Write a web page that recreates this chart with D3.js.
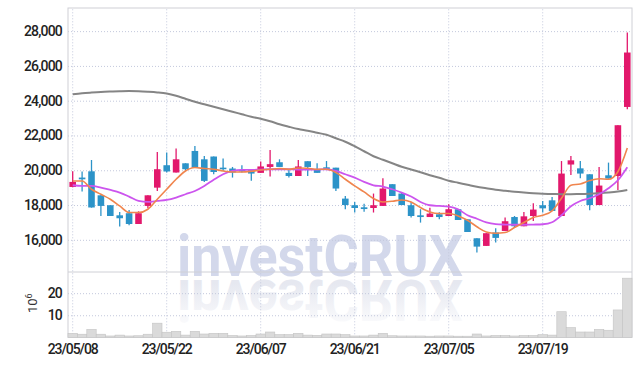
<!DOCTYPE html>
<html lang="en">
<head>
<meta charset="UTF-8" />
<script src="https://d3js.org/d3.v7.min.js"></script>
<style>
  html, body { margin: 0; padding: 0; background: #fff; }
  svg { display: block; }
  .tick text { font-family: Roboto, "Liberation Sans", sans-serif; font-weight: 500; fill: #222; }
</style>
</head>
<body>
<svg id="chart" width="642" height="366"></svg>
<script>
// trading days
const dates = [
  '23/05/08','23/05/09','23/05/10','23/05/11','23/05/12','23/05/15','23/05/16','23/05/17','23/05/18','23/05/19',
  '23/05/22','23/05/23','23/05/24','23/05/25','23/05/26','23/05/30','23/05/31','23/06/01','23/06/02','23/06/05',
  '23/06/07','23/06/08','23/06/09','23/06/12','23/06/13','23/06/14','23/06/15','23/06/16','23/06/19','23/06/20',
  '23/06/21','23/06/22','23/06/23','23/06/26','23/06/27','23/06/28','23/06/29','23/06/30','23/07/03','23/07/04',
  '23/07/05','23/07/06','23/07/07','23/07/10','23/07/11','23/07/12','23/07/13','23/07/14','23/07/17','23/07/18',
  '23/07/19','23/07/20','23/07/21','23/07/24','23/07/25','23/07/26','23/07/27','23/07/28','23/07/31','23/08/01'
];
const dateTicks = ['23/05/08','23/05/22','23/06/07','23/06/21','23/07/05','23/07/19'];

const open = [19040,19580,19940,18560,17990,17410,17530,16910,17950,19000,
  20290,19870,20400,21110,20630,20790,20150,20100,20020,20020,
  19850,20190,20460,19850,19670,20520,20060,20170,20150,18370,
  17990,17870,17830,17950,19200,18660,17990,17410,17310,17470,
  17370,17760,17180,16090,15650,16420,16510,17310,16780,17370,
  17990,18270,17370,20330,20110,19770,18000,19710,19670,23640];
const high = [19940,19930,20590,18560,17990,17600,17720,17640,18560,21050,
  21020,21250,20400,21400,20820,20790,20670,20190,20290,20020,
  20500,21170,20630,20020,20590,20520,20400,20530,20150,18520,
  18180,18080,18660,19540,19200,18750,18180,17760,17850,17580,
  18040,17760,17180,16090,16380,16660,17280,17370,17600,18100,
  18230,18460,20530,20820,20530,19770,20190,20440,22590,27920];
const low = [19020,18780,17850,17370,17370,16760,16840,16910,17820,18810,
  19870,19870,19960,20150,19330,19770,19960,19580,19870,19390,
  19850,19640,20190,19580,19670,19670,19850,20060,18810,17760,
  17570,17620,17570,17950,18520,18000,17280,16990,17310,17180,
  17370,17140,16450,15270,15650,15840,16510,16700,16780,17080,
  17570,17660,17370,19730,19540,17700,18000,19520,18870,23510];
const close = [19330,19480,17860,17950,17370,17240,16910,17530,18560,20060,
  19930,20630,20060,20150,19390,19900,20060,19870,19940,19810,
  20220,20350,20190,19670,20220,20190,19850,20060,18950,18000,
  17830,17770,17990,18950,18520,18000,17370,17310,17510,17310,
  17760,17140,16450,15610,16380,16110,17070,16780,17350,17740,
  17810,17660,19810,20570,19810,18000,19120,19520,22590,26770];

// moving averages
const ma5 = [19385,19385,18908,18620,18333,17948,17568,17568,17758,18333,
  18908,19483,19960,20155,20098,20058,19960,19902,19902,19943,
  20017,20058,20098,20058,20133,20115,20058,20058,19868,19483,
  19098,18753,18373,18178,18218,18293,18178,17856,17603,17511,
  17511,17373,17125,16751,16453,16378,16418,16705,16993,17280,
  17413,17660,18390,19138,19212,19408,19511,19483,19914,21277];
const ma20 = [19138,19098,19098,19005,18868,18718,18488,18235,18178,18235,
  18293,18430,18620,18810,19098,19454,19770,19960,20017,20017,
  20040,20058,20058,20058,20040,20040,20040,20058,19960,19770,
  19580,19328,19138,19063,18908,18718,18488,18178,17988,17948,
  17913,17758,17413,17211,17010,16907,16878,16866,16866,16878,
  16895,17010,17413,17930,18235,18390,18620,18965,19425,20173];
const ma120 = [24370,24428,24468,24502,24525,24543,24554,24543,24514,24474,
  24410,24284,24111,23939,23795,23651,23508,23364,23220,23076,
  22961,22818,22645,22501,22369,22271,22156,22041,21840,21639,
  21380,21093,20805,20604,20403,20201,20046,19885,19713,19569,
  19396,19281,19166,19051,18965,18879,18821,18764,18718,18678,
  18649,18637,18620,18620,18637,18649,18678,18718,18775,18867];

// volume, millions of shares
const volume = [1.8,1.4,3.6,1.4,0.6,1.0,0.6,0.7,1.4,6.4,
  2.3,2.7,1.0,2.7,1.5,1.8,1.8,0.8,0.6,0.8,
  1.5,2.4,1.2,1.2,1.8,1.0,0.9,1.5,1.5,1.2,
  0.6,0.6,1.0,1.8,0.7,0.6,0.6,0.6,0.5,0.6,
  0.6,0.5,0.5,1.5,0.6,0.8,0.8,0.6,0.8,0.8,
  1.2,1.0,11.6,4.4,2.4,2.4,3.6,3.2,12.4,26.8];

const priceTicks = [16000,18000,20000,22000,24000,26000,28000];
const volumeTicks = [10,20];

const svg = d3.select('#chart');
const plotLeft = 68, plotRight = 632, plotTop = 8, priceBottom = 272, volBottom = 337.3;

const x = d3.scaleBand().domain(dates).range([plotLeft, plotRight]);
const y = d3.scaleLinear().domain([14150, 29330]).range([priceBottom, plotTop]);
const yv = d3.scaleLinear().domain([0, 29.6]).range([volBottom, priceBottom]);
const cx = d => x(d) + x.bandwidth() / 2;

const upColor = '#e2186c', downColor = '#2c93c8';
const gridColor = '#c3c8dc';

// watermark (text + mirrored copy)
const defs = svg.append('defs');
const grad = defs.append('linearGradient').attr('id', 'fade').attr('x1', 0).attr('y1', 0).attr('x2', 0).attr('y2', 1);
grad.append('stop').attr('offset', 0).attr('stop-color', '#fff');
grad.append('stop').attr('offset', 0.75).attr('stop-color', '#e6e8f0');
defs.append('text').attr('id', 'wmText')
  .attr('x', 177).attr('y', 276)
  .attr('textLength', 286).attr('lengthAdjust', 'spacingAndGlyphs')
  .attr('font-family', 'Roboto, sans-serif').attr('font-weight', 700).attr('font-size', 58)
  .text('investCRUX');
svg.append('use').attr('href', '#wmText').attr('fill', '#d3d8eb');
svg.append('use').attr('href', '#wmText').attr('fill', 'url(#fade)')
  .attr('transform', 'translate(0,556) scale(1,-1)');

// cover for reflection below the volume baseline
svg.append('rect').attr('x', plotLeft).attr('y', volBottom).attr('width', plotRight - plotLeft).attr('height', 30).attr('fill', '#fff');

// price axis + grid
const yAxisG = svg.append('g')
  .attr('transform', `translate(${plotLeft},0)`)
  .call(d3.axisLeft(y).tickValues(priceTicks).tickFormat(d3.format(',')).tickSize(-(plotRight - plotLeft)).tickPadding(6));
yAxisG.select('.domain').remove();
yAxisG.selectAll('.tick line').attr('stroke', gridColor).attr('stroke-dasharray', '1,2');
yAxisG.selectAll('.tick text').attr('font-size', 14).attr('letter-spacing', '-0.8px');

// volume axis + grid
const yvAxisG = svg.append('g')
  .attr('transform', `translate(${plotLeft},0)`)
  .call(d3.axisLeft(yv).tickValues(volumeTicks).tickSize(-(plotRight - plotLeft)).tickPadding(6));
yvAxisG.select('.domain').remove();
yvAxisG.selectAll('.tick line').attr('stroke', gridColor).attr('stroke-dasharray', '1,2');
yvAxisG.selectAll('.tick text').attr('font-size', 14).attr('letter-spacing', '-0.8px');

const unit = svg.append('text')
  .attr('transform', 'translate(37,313) rotate(-90)')
  .attr('font-family', 'Roboto, sans-serif').attr('font-size', 13).attr('fill', '#333');
unit.append('tspan').text('10');
unit.append('tspan').attr('dy', -5).attr('font-size', 9).text('6');

// x axis + vertical grid
const xAxisG = svg.append('g')
  .attr('transform', `translate(0,${volBottom})`)
  .call(d3.axisBottom(x).tickValues(dateTicks).tickSize(-(volBottom - plotTop)).tickPadding(7));
xAxisG.select('.domain').remove();
xAxisG.selectAll('.tick line').attr('stroke', gridColor).attr('stroke-dasharray', '1,2');
xAxisG.selectAll('.tick text').attr('font-size', 14).attr('letter-spacing', '-1.1px');

// frame
svg.append('rect').attr('x', plotLeft).attr('y', plotTop).attr('width', plotRight - plotLeft).attr('height', volBottom - plotTop)
  .attr('fill', 'none').attr('stroke', '#cfd0d6');
svg.append('line').attr('x1', plotLeft).attr('x2', plotRight).attr('y1', priceBottom).attr('y2', priceBottom)
  .attr('stroke', '#cfd0d6');

// volume bars
svg.append('g').selectAll('rect').data(volume).join('rect')
  .attr('x', (d, i) => x(dates[i]))
  .attr('y', d => yv(d))
  .attr('width', x.step())
  .attr('height', d => yv(0) - yv(d))
  .attr('fill', '#dadada')
  .attr('stroke', '#c4c4c4')
  .attr('stroke-width', 0.6);

// candles
const candles = svg.append('g').selectAll('g').data(dates).join('g');
const color = (d, i) => close[i] >= open[i] ? upColor : downColor;
candles.append('line')
  .attr('x1', d => cx(d)).attr('x2', d => cx(d))
  .attr('y1', (d, i) => y(high[i])).attr('y2', (d, i) => y(low[i]))
  .attr('stroke', color).attr('stroke-width', 1.3);
const bodyW = x.step() * 0.7;
candles.append('rect')
  .attr('x', d => cx(d) - bodyW / 2)
  .attr('width', bodyW)
  .attr('y', (d, i) => y(Math.max(open[i], close[i])))
  .attr('height', (d, i) => Math.max(1.5, Math.abs(y(open[i]) - y(close[i]))))
  .attr('fill', color);

// moving average lines
const line = d3.line().x((d, i) => cx(dates[i])).y(d => y(d)).curve(d3.curveMonotoneX);
svg.append('path').datum(ma120).attr('d', line).attr('fill', 'none').attr('stroke', '#858585').attr('stroke-width', 2);
svg.append('path').datum(ma20).attr('d', line).attr('fill', 'none').attr('stroke', '#cc55ee').attr('stroke-width', 1.8);
svg.append('path').datum(ma5).attr('d', line).attr('fill', 'none').attr('stroke', '#f0854e').attr('stroke-width', 1.6);
</script>
</body>
</html>
